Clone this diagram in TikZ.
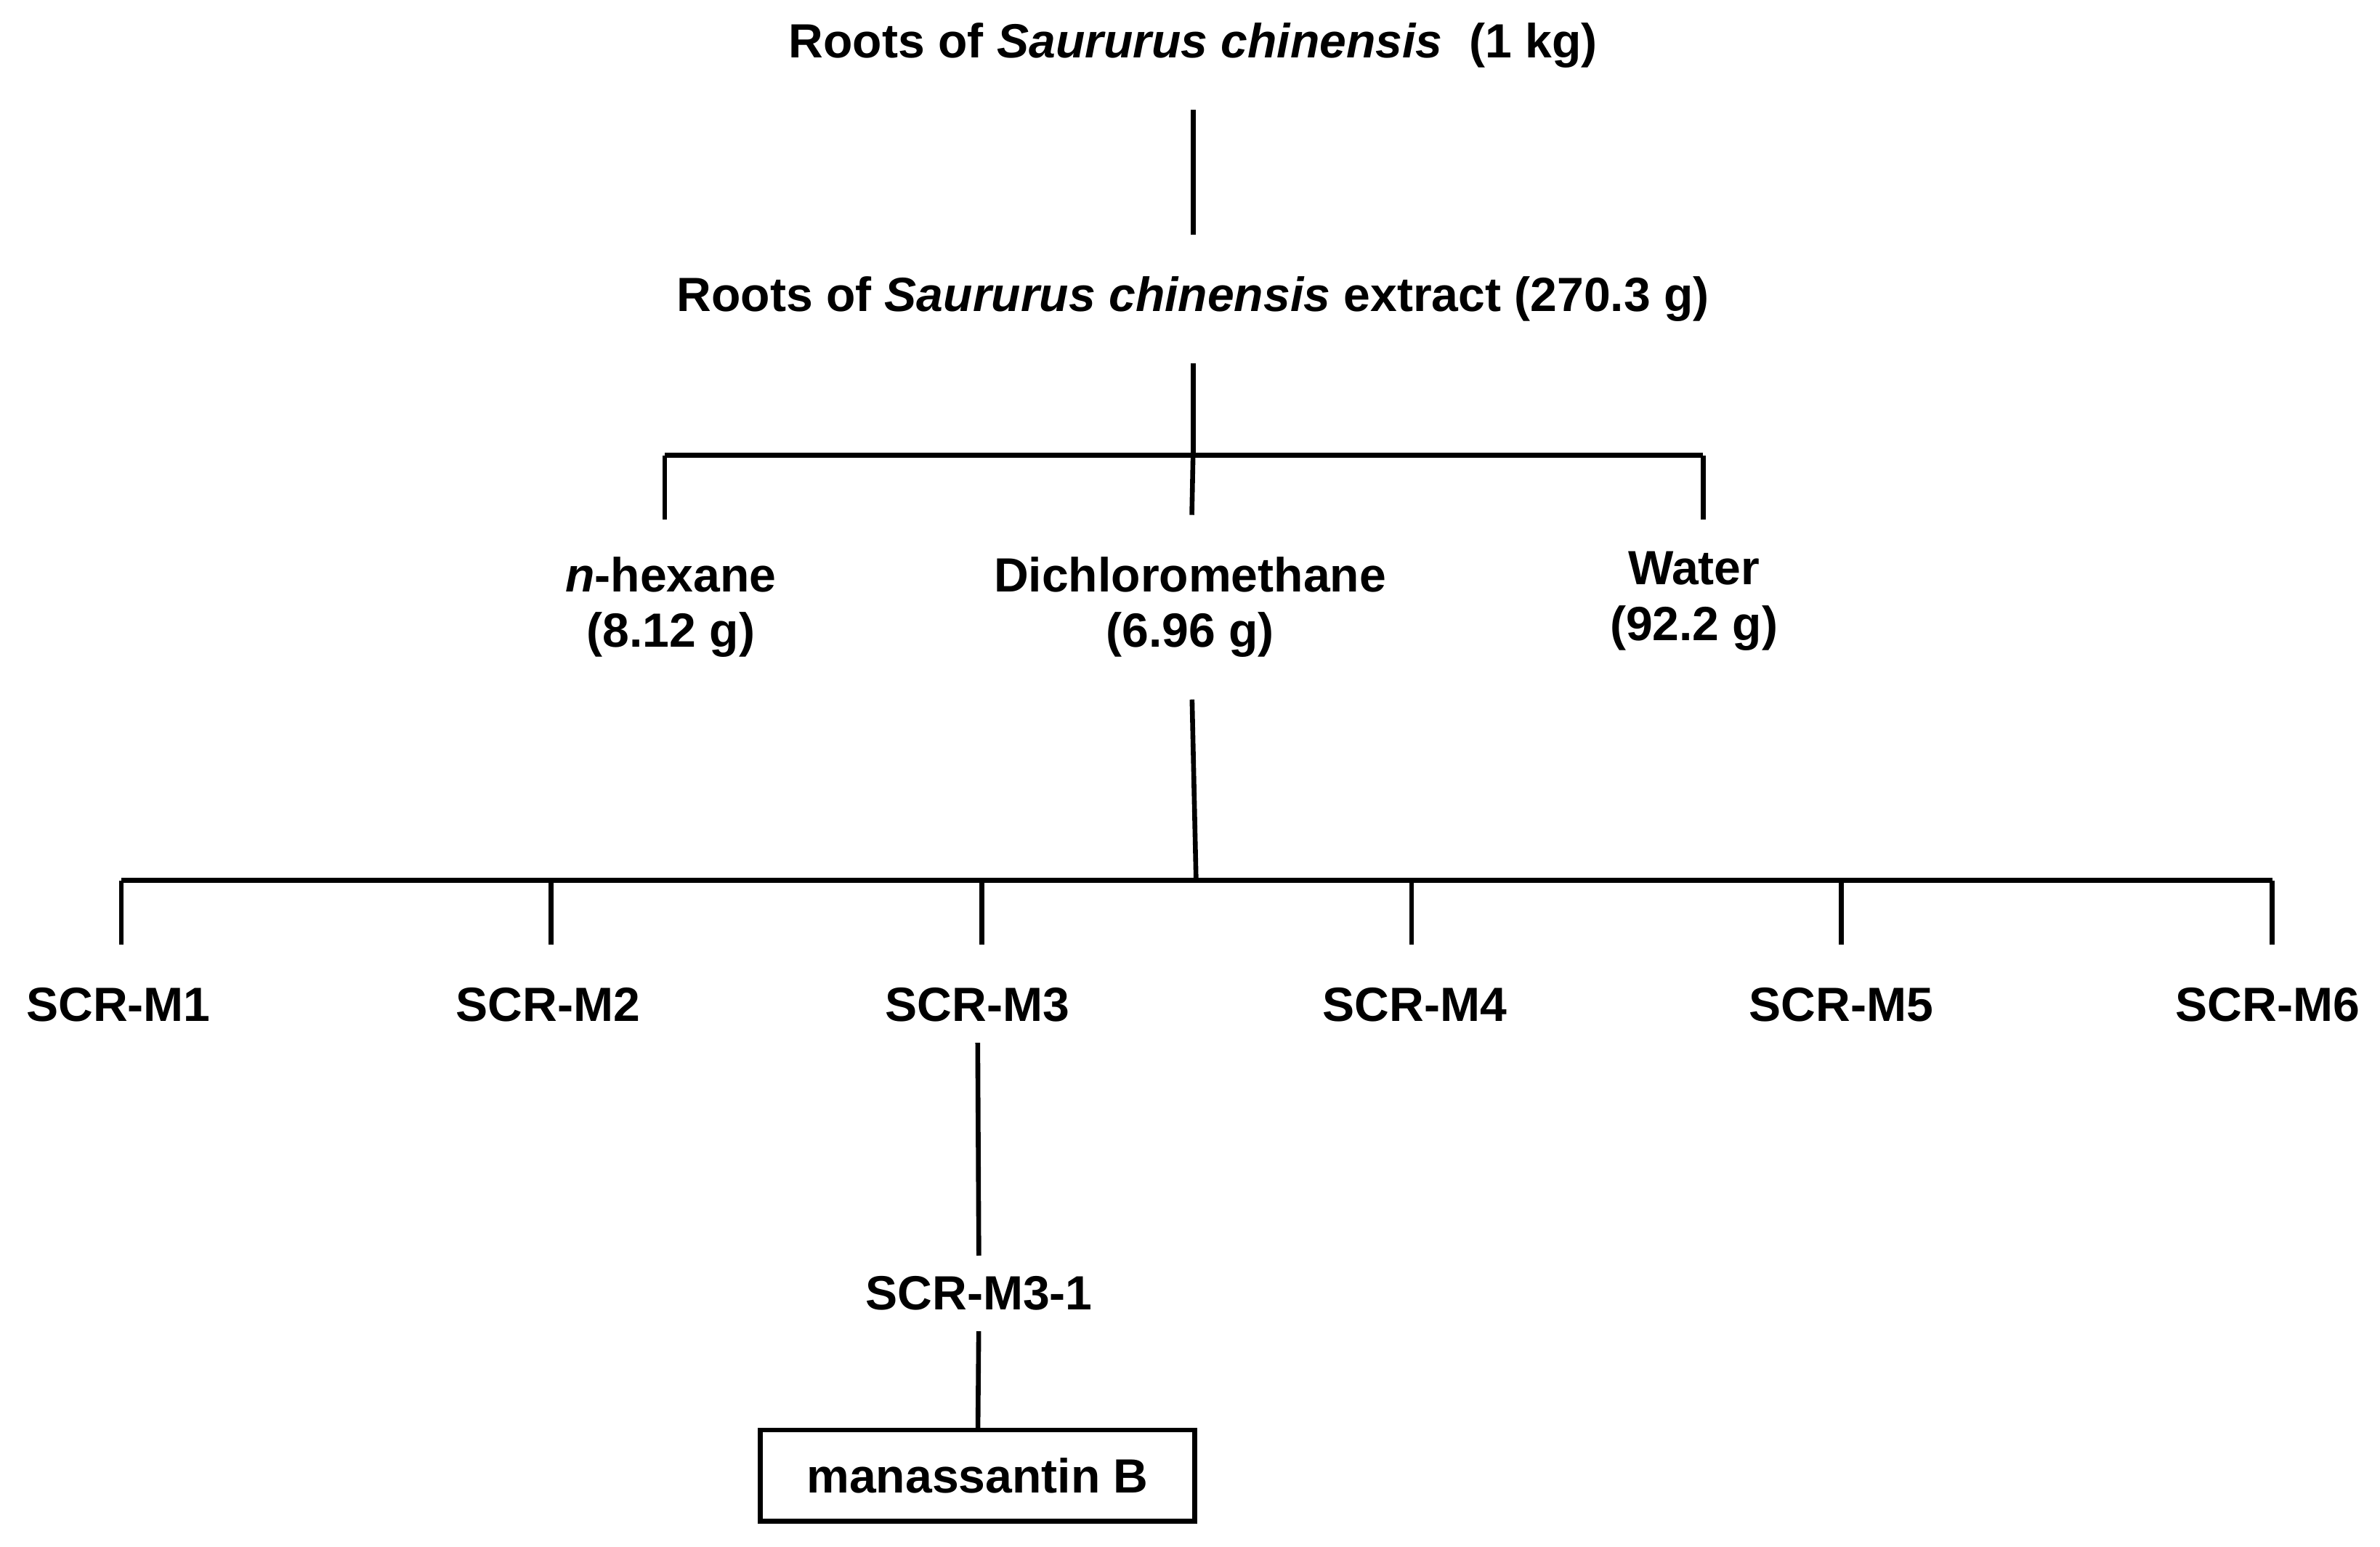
\documentclass[tikz,border=0pt]{standalone}
\usepackage{fontspec}
\setmainfont{Liberation Sans}
\usetikzlibrary{positioning}
\tikzstyle{stage}=[font=\bfseries\fontsize{9}{10.4}\selectfont, align=center, inner xsep=2pt, inner ysep=0.27cm]
\tikzstyle{frac}=[stage, inner ysep=0.13cm]
\tikzstyle{final}=[frac, draw=black, line width=0.9pt, minimum width=2.86cm, minimum height=0.6cm, inner ysep=0pt]
\tikzstyle{link}=[line width=0.9pt, draw=black]

\begin{document}
\begin{tikzpicture}
      \useasboundingbox (0,0) rectangle (15.68,10.19);
      \node[stage] (root) at (7.86,9.89) {Roots of \textit{Saururus chinensis}~ (1 kg)};
      \node[stage] (extract) at (7.86,8.22) {Roots of \textit{Saururus chinensis} extract (270.3 g)};
      \node[stage] (hex) at (4.42,6.19) {\textit{n}-hexane\\(8.12 g)};
      \node[stage] (dcm) at (7.84,6.19) {Dichloromethane\\(6.96 g)};
      \node[stage] (water) at (11.16,6.23) {Water\\(92.2 g)};

      \coordinate (busA) at (7.86,7.19);
      \coordinate (busB) at (7.88,4.39);
      \coordinate (hexTop) at (4.38,6.77);
      \coordinate (waterTop) at (11.22,6.77);

      \draw[link] (root) -- (extract);
      \draw[link] (extract) -- (busA);
      \draw[link] (busA -| hexTop) -- (busA -| waterTop);
      \draw[link] (busA -| hexTop) -- (hexTop);
      \draw[link] (busA -| waterTop) -- (waterTop);
      \draw[link] (busA) -- (dcm);
      \draw[link] (dcm) -- (busB);

      \foreach \i/\x/\t in {1/0.80/0.78, 2/3.63/3.61, 3/6.47/6.44, 4/9.30/9.32, 5/12.13/12.13, 6/14.97/14.94} {
        \node[frac] (m\i) at (\t,3.57) {SCR-M\i};
        \coordinate (drop\i) at (\x,3.97);
        \draw[link] (\x,4.39) -- (drop\i);
      }
      \draw[link] (drop1 |- busB) -- (drop6 |- busB);

      \node[frac] (m31) at (6.45,1.67) {SCR-M3-1};
      \node[final] (mana) at (6.44,0.47) {manassantin B};
      \draw[link] (m3) -- (m31);
      \draw[link] (m31) -- (mana);
    \end{tikzpicture}
\end{document}
